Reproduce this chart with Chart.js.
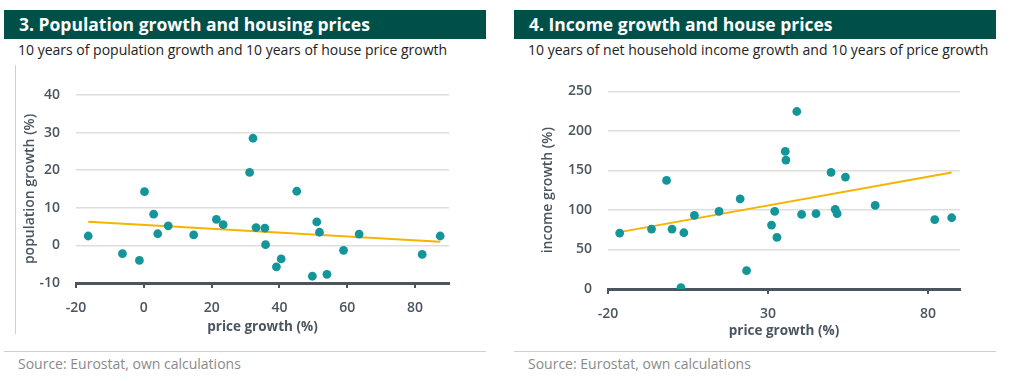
<!DOCTYPE html>
<html>
<head>
<meta charset="utf-8">
<script src="https://cdn.jsdelivr.net/npm/chart.js@4/dist/chart.umd.min.js"></script>
<style>
  html,body{margin:0;padding:0;background:#fff;}
  body{width:1015px;height:381px;position:relative;overflow:hidden;font-family:"Open Sans",sans-serif;}
  .bar{position:absolute;top:10px;height:29px;width:482px;background:#00504a;color:#fff;font-weight:700;font-size:17.5px;line-height:29px;box-sizing:border-box;padding-left:15px;}
  .sub{position:absolute;top:40px;font-size:14px;color:#222;line-height:20px;}
  .src{position:absolute;top:355px;font-size:14px;color:#8a8a8a;line-height:18px;}
  .sep{position:absolute;top:351px;height:1px;width:482px;background:#cfcfcf;}
  .vline{position:absolute;left:15px;top:65px;width:1px;height:269px;background:#cfcfcf;}
  .cw{position:absolute;top:70px;width:460px;height:280px;}
</style>
</head>
<body>
<div class="bar" style="left:4px">3. Population growth and housing prices</div>
<div class="sub" style="left:18px">10 years of population growth and 10 years of house price growth</div>
<div class="vline"></div>
<div class="cw" style="left:16px"><canvas id="c1"></canvas></div>
<div class="sep" style="left:4px"></div>
<div class="src" style="left:18px">Source: Eurostat, own calculations</div>

<div class="bar" style="left:514px">4. Income growth and house prices</div>
<div class="sub" style="left:528px">10 years of net household income growth and 10 years of price growth</div>
<div class="cw" style="left:526px"><canvas id="c2"></canvas></div>
<div class="sep" style="left:514px"></div>
<div class="src" style="left:528px">Source: Eurostat, own calculations</div>

<script>
// ---- Data: chart 3 (population growth vs price growth) ----
const popPrice = [-16.4,-6.3,-1.3,0.2,2.9,4.1,7.2,14.7,21.4,23.4,31.2,32.2,33.1,35.7,35.9,39.1,40.5,45.1,49.7,51.0,51.8,54.0,58.9,63.5,82.1,87.4];
const popGrowth = [2.5,-2.2,-4.0,14.3,8.3,3.1,5.2,2.8,6.9,5.5,19.4,28.5,4.75,4.6,0.2,-5.7,-3.6,14.4,-8.2,6.25,3.5,-7.7,-1.3,3.0,-2.4,2.5];
const popTrendX = [-16.4, 87.4];
const popTrendY = [6.3, 0.95];
const popXTicks = [-20,0,20,40,60,80];
const popYTicks = [-10,0,10,20,30,40];

// ---- Data: chart 4 (income growth vs price growth) ----
const incPrice = [-16.35,-6.4,-1.7,0.0,2.8,3.7,7.0,14.7,21.3,23.3,31.1,32.1,32.8,35.4,35.6,39.0,40.5,45.0,49.7,51.0,51.6,54.2,63.5,82.1,87.4];
const incGrowth = [70.8,75.9,137.4,75.9,1.7,71.2,93.2,98.2,114.2,23.2,80.9,98.2,65.3,174.1,163.2,224.7,94.4,95.3,147.6,100.8,95.3,141.7,105.8,87.7,90.2];
const incTrendX = [-16.4, 87.4];
const incTrendY = [72.0, 147.5];
const incXTicks = [-20,30,80];
const incYTicks = [0,50,100,150,200,250];

const TEAL = '#14959a';
const GOLD = '#f5b400';
const AXIS = '#4a5560';
const GRID = '#dedede';
const FONT = '"Open Sans", sans-serif';

function makeChart(id, xs, ys, tx, ty, xTicks, yTicks, xmin, xmax, ymin, ymax, yTitle, cfg){
  const pts = xs.map((x,i)=>({x:x,y:ys[i]}));
  const tr = tx.map((x,i)=>({x:x,y:ty[i]}));
  return new Chart(document.getElementById(id), {
    type:'scatter',
    data:{datasets:[
      {data:pts, backgroundColor:TEAL, borderColor:TEAL, pointRadius:4.4, pointHoverRadius:4.4, borderWidth:0, order:1},
      {type:'line', data:tr, borderColor:GOLD, borderWidth:2, pointRadius:0, fill:false, order:2}
    ]},
    options:{
      responsive:true, maintainAspectRatio:false, animation:false,
      layout:{padding:{top:cfg.padTop,right:cfg.padRight,left:0,bottom:0}},
      plugins:{legend:{display:false}, tooltip:{enabled:false}},
      scales:{
        x:{type:'linear', min:xmin, max:xmax,
          afterBuildTicks:(a)=>{a.ticks = xTicks.map(v=>({value:v}));},
          afterFit:(a)=>{a.height = cfg.xHeight; a.paddingLeft = 0; a.paddingRight = 0;},
          grid:{drawOnChartArea:false, drawTicks:true, tickLength:5, color:AXIS, lineWidth:2},
          border:{display:true, color:AXIS, width:3},
          ticks:{color:AXIS, font:{family:FONT, size:14, weight:'600'}, padding:12, maxRotation:0},
          title:{display:true, text:'price growth (%)', color:AXIS, font:{family:FONT, size:13.5, weight:'700'}, padding:{top:0,bottom:cfg.xTitlePad}}
        },
        y:{type:'linear', min:ymin, max:ymax,
          afterBuildTicks:(a)=>{a.ticks = yTicks.map(v=>({value:v}));},
          afterFit:(a)=>{a.width = cfg.yWidth; a.paddingTop = 0; a.paddingBottom = 0;},
          grid:{color:GRID, lineWidth:1.5, drawTicks:false},
          border:{display:false},
          ticks:{color:AXIS, font:{family:FONT, size:14, weight:'600'}, padding:16},
          title:{display:true, text:yTitle, color:AXIS, font:{family:FONT, size:14, weight:'600'}, padding:{top:cfg.yTitlePad,bottom:0}}
        }
      }
    }
  });
}

makeChart('c1', popPrice, popGrowth, popTrendX, popTrendY, popXTicks, popYTicks, -20, 90, -10, 40, 'population growth (%)',
  {yWidth:60, padTop:25, padRight:27, xHeight:67, xTitlePad:14.5, yTitlePad:5.6});
makeChart('c2', incPrice, incGrowth, incTrendX, incTrendY, incXTicks, incYTicks, -20, 90, 0, 250, 'income growth (%)',
  {yWidth:82, padTop:21.5, padRight:26, xHeight:61, xTitlePad:10.5, yTitlePad:13.6});
</script>
</body>
</html>
